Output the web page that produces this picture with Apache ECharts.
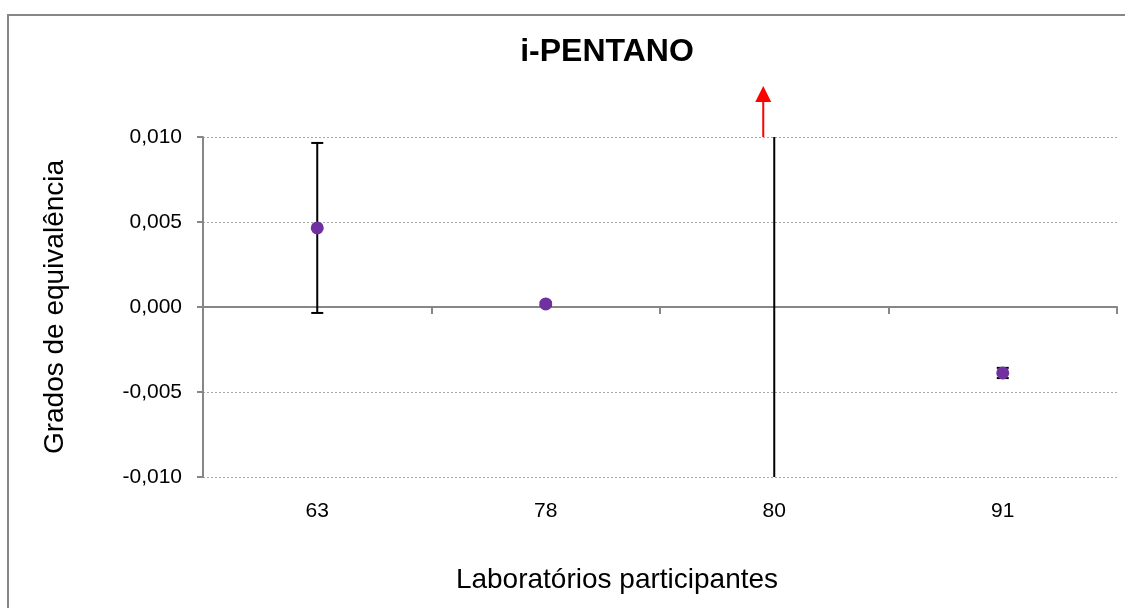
<!DOCTYPE html>
<html>
<head>
<meta charset="utf-8">
<script src="https://cdn.jsdelivr.net/npm/echarts@6/dist/echarts.min.js"></script>
<style>html,body{margin:0;padding:0;background:#fff;}#c{width:1125px;height:608px;}</style>
</head>
<body>
<div id="c"></div>
<script>
const labs = ['63', '78', '80', '91'];
const values = [0.00465, 0.00018, 0.030, -0.00388];
const uncert = [0.0050, 0.0001, 0.060, 0.0003];
const yTicks = [-0.010, -0.005, 0.000, 0.005, 0.010];
const titleText = 'i-PENTANO';
const yName = 'Grados de equivalência';
const xName = 'Laboratórios participantes';

const yMin = yTicks[0], yMax = yTicks[yTicks.length - 1], yStep = yTicks[1] - yTicks[0];
const FONT = "'Liberation Sans', Arial, sans-serif";
const GRAY = '#878787';

const chart = echarts.init(document.getElementById('c'));

const errData = labs.map((l, i) => [i, values[i] - uncert[i], values[i] + uncert[i]]);
const ptData = labs.map((l, i) => [i, values[i]]);

function clampY(y, cs) { return Math.max(cs.y, Math.min(cs.y + cs.height, y)); }

const gridRect = { left: 203, right: 8, top: 137, bottom: 131 };

chart.setOption({
  animation: false,
  backgroundColor: '#fff',
  title: {
    text: titleText, left: 607, top: 36, textAlign: 'center', padding: 0,
    textStyle: { fontFamily: FONT, fontSize: 32, fontWeight: 'bold', color: '#000' }
  },
  graphic: [{
    type: 'rect', silent: true, z: -1,
    shape: { x: 8, y: 15, width: 1200, height: 700 },
    style: { fill: 'none', stroke: GRAY, lineWidth: 2 }
  }],
  grid: [Object.assign({}, gridRect), Object.assign({}, gridRect)],
  xAxis: [{
    type: 'category', data: labs, gridIndex: 0, position: 'bottom',
    axisLine: { show: true, onZero: true, lineStyle: { color: GRAY, width: 2 } },
    axisTick: { show: true, length: 7, inside: false, alignWithLabel: false, lineStyle: { color: GRAY, width: 2 } },
    axisLabel: { show: false },
    splitLine: { show: false }
  }, {
    type: 'category', data: labs, gridIndex: 1, position: 'bottom',
    axisLine: { show: false, onZero: false },
    axisTick: { show: false },
    axisLabel: { show: true, margin: 24, fontFamily: FONT, fontSize: 21, color: '#000' },
    name: xName, nameLocation: 'middle', nameGap: 89,
    nameTextStyle: { fontFamily: FONT, fontSize: 28, color: '#000', padding: [0, 86, 0, 0] }
  }],
  yAxis: [{
    type: 'value', gridIndex: 0, min: yMin, max: yMax, interval: yStep,
    axisLine: { show: true, lineStyle: { color: GRAY, width: 2 } },
    axisTick: { show: true, length: 6, inside: false, lineStyle: { color: GRAY, width: 2 } },
    axisLabel: {
      margin: 21, fontFamily: FONT, fontSize: 21, color: '#000',
      formatter: v => (Math.abs(v) < 1e-12 ? 0 : v).toFixed(3).replace('.', ',')
    },
    splitLine: { show: true, lineStyle: { color: '#a8a8a8', width: 1, type: [2, 2] } },
    name: yName, nameLocation: 'middle', nameGap: 134, nameRotate: 90,
    nameTextStyle: { fontFamily: FONT, fontSize: 28, color: '#000' }
  }, {
    type: 'value', gridIndex: 1, min: yMin, max: yMax, interval: yStep, show: false
  }],
  series: [{
    type: 'custom', xAxisIndex: 0, yAxisIndex: 0, data: errData, z: 3,
    renderItem: function (params, api) {
      const cs = params.coordSys;
      const i = api.value(0);
      const pLo = api.coord([i, api.value(1)]);
      const pHi = api.coord([i, api.value(2)]);
      const x = pLo[0];
      const yTop = clampY(pHi[1], cs), yBot = clampY(pLo[1], cs);
      const st = { stroke: '#000', lineWidth: 2, fill: 'none' };
      const hw = 6;
      const children = [{ type: 'line', shape: { x1: x, y1: yTop, x2: x, y2: yBot }, style: st }];
      if (pHi[1] >= cs.y && pHi[1] <= cs.y + cs.height)
        children.push({ type: 'line', shape: { x1: x - hw, y1: pHi[1], x2: x + hw, y2: pHi[1] }, style: st });
      if (pLo[1] >= cs.y && pLo[1] <= cs.y + cs.height)
        children.push({ type: 'line', shape: { x1: x - hw, y1: pLo[1], x2: x + hw, y2: pLo[1] }, style: st });
      return { type: 'group', children: children };
    }
  }, {
    type: 'scatter', xAxisIndex: 0, yAxisIndex: 0, data: ptData, z: 5,
    symbol: 'circle', symbolSize: 13, clip: true,
    itemStyle: { color: '#7030A0', opacity: 1 }
  }, {
    type: 'custom', xAxisIndex: 0, yAxisIndex: 0, data: ptData, z: 6, clip: false,
    renderItem: function (params, api) {
      const i = api.value(0), v = api.value(1);
      if (v <= yMax) return null;
      const base = api.coord([i, yMax]);
      const x = base[0] - 11, y = base[1];
      return {
        type: 'group', children: [
          { type: 'line', shape: { x1: x, y1: y, x2: x, y2: y - 36 }, style: { stroke: '#ff0000', lineWidth: 2 } },
          { type: 'polygon', shape: { points: [[x - 8, y - 35], [x + 8, y - 35], [x, y - 51]] }, style: { fill: '#ff0000' } }
        ]
      };
    }
  }]
});
</script>
</body>
</html>
